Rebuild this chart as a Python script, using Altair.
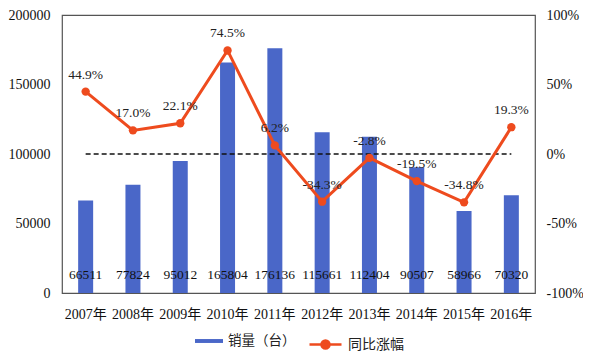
import altair as alt
import pandas as pd

years = ["2007年", "2008年", "2009年", "2010年", "2011年",
         "2012年", "2013年", "2014年", "2015年", "2016年"]
sales = [66511, 77824, 95012, 165804, 176136, 115661, 112404, 90507, 58966, 70320]
growth = [44.9, 17.0, 22.1, 74.5, 6.2, -34.3, -2.8, -19.5, -34.8, 19.3]

bar_name = "销量（台）"
line_name = "同比涨幅"
BLUE = "#4A67C8"
ORANGE = "#EE4B1E"
SERIF = "Liberation Serif, Noto Sans CJK SC"
CJK = "Noto Sans CJK SC"

df = pd.DataFrame({
    "year": years,
    "sales": sales,
    "growth": growth,
    "sales_label": [str(v) for v in sales],
    "growth_label": [f"{v:.1f}%" for v in growth],
    "s1": bar_name,
    "s2": line_name,
})

x = alt.X("year:N", sort=years, title=None,
          scale=alt.Scale(paddingInner=0, paddingOuter=0),
          axis=alt.Axis(labelAngle=0, ticks=False, domain=False,
                        labelFont=SERIF, labelFontSize=14, labelColor="#111",
                        labelPadding=14))

base = alt.Chart(df)

bars = base.mark_bar(size=15).encode(
    x=x,
    y=alt.Y("sales:Q", title=None,
            scale=alt.Scale(domain=[0, 200000]),
            axis=alt.Axis(values=[0, 50000, 100000, 150000, 200000], format="d",
                          ticks=False, domain=False, grid=False,
                          labelFont=SERIF, labelFontSize=14, labelColor="#111",
                          labelPadding=12)),
    fill=alt.Fill("s1:N", scale=alt.Scale(domain=[bar_name], range=[BLUE]),
                  legend=alt.Legend(title=None, orient="none", legendX=133, legendY=312,
                                    symbolType="M-1,-0.14H1V0.14H-1Z", symbolSize=784,
                                    symbolStrokeWidth=0, labelOffset=5,
                                    labelFont=CJK, labelFontSize=13.5, labelColor="#222")),
)

bar_labels = base.mark_text(font=SERIF, fontSize=13.5, color="#111",
                            baseline="middle").encode(
    x=alt.X("year:N", sort=years),
    y=alt.value(260),
    text="sales_label:N",
)

right_scale = alt.Scale(domain=[-100, 100])
right_axis = alt.Axis(orient="right", values=[-100, -50, 0, 50, 100],
                      labelExpr="datum.value + '%'", title=None,
                      ticks=False, domain=False, grid=False,
                      labelFont=SERIF, labelFontSize=14, labelColor="#111",
                      labelPadding=11)

yr = alt.Y("growth:Q", title=None, scale=right_scale, axis=right_axis)

dash = base.mark_line(color="#111", strokeWidth=1.5, strokeDash=[5, 3]).encode(
    x=alt.X("year:N", sort=years),
    y=alt.datum(0, scale=right_scale, axis=right_axis),
)

line = base.mark_line(strokeWidth=3).encode(
    x=alt.X("year:N", sort=years),
    y=yr,
    stroke=alt.Stroke("s2:N", scale=alt.Scale(domain=[line_name], range=[ORANGE]),
                      legend=alt.Legend(title=None, orient="none", legendX=246, legendY=312,
                                        symbolType="M-1,0H1M-0.25,0A0.25,0.25,0,1,1,0.25,0A0.25,0.25,0,1,1,-0.25,0Z",
                                        symbolSize=1024, symbolStrokeWidth=2.5,
                                        symbolFillColor=ORANGE, labelOffset=5,
                                        labelFont=CJK, labelFontSize=14, labelColor="#222")),
)

points = base.mark_circle(size=70, color=ORANGE, opacity=1).encode(
    x=alt.X("year:N", sort=years),
    y=yr,
)

pct_labels = base.mark_text(font=SERIF, fontSize=13.5, color="#222",
                            baseline="middle", dy=-17).encode(
    x=alt.X("year:N", sort=years),
    y=yr,
    text="growth_label:N",
)

left = alt.layer(bars, bar_labels)
right = alt.layer(dash, line, points, pct_labels)

chart = alt.layer(left, right).resolve_scale(
    y="independent", fill="independent", stroke="independent"
).properties(
    width=473, height=278,
    autosize=alt.AutoSizeParams(type="none"),
    padding={"left": 54, "top": 7, "right": 48, "bottom": 60},
    background="white",
).configure_view(stroke="#555", strokeWidth=1.2)

chart.save("out.html", embed_options={"renderer": "svg", "actions": False})
